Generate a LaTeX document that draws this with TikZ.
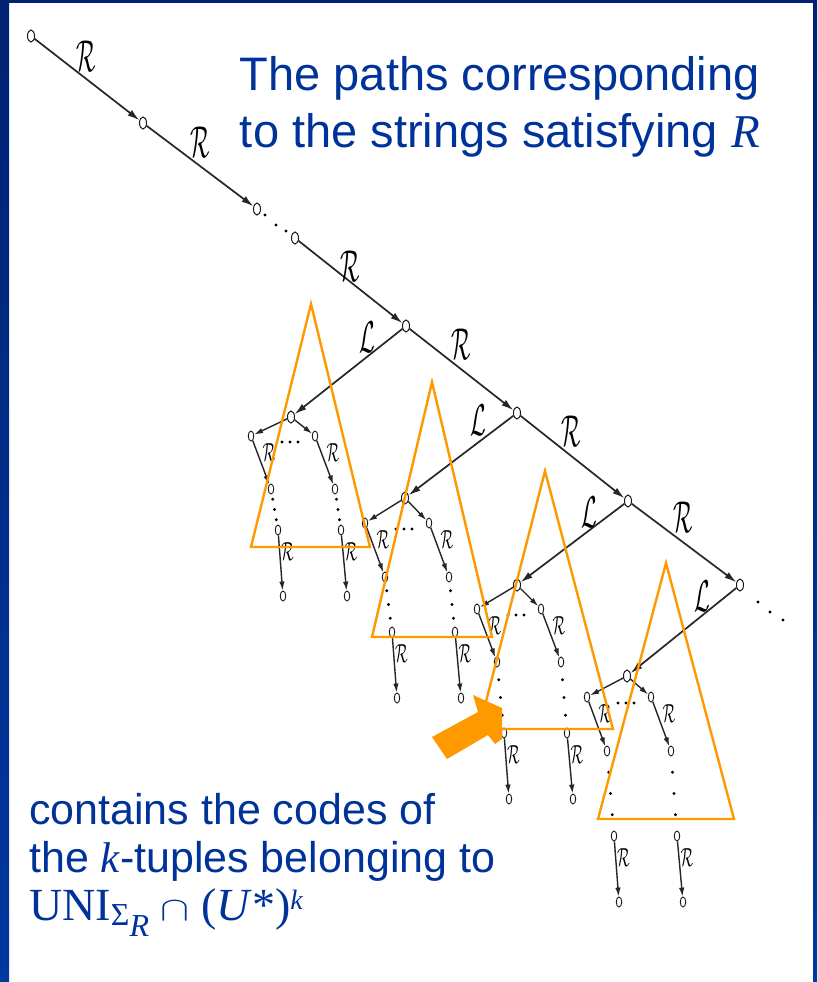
\documentclass[tikz,border=0pt]{standalone}
\usepackage{fontspec}
\setmainfont{Liberation Sans}
\newfontfamily\tnr{Liberation Serif}
\usetikzlibrary{arrows.meta,shapes.geometric,calc}
\definecolor{ttblue}{RGB}{0,51,153}
\definecolor{frametop}{RGB}{0,34,115}
\definecolor{framebot}{RGB}{0,55,160}
\definecolor{orng}{RGB}{255,153,0}
\tikzset{
  nd/.style={draw=black!90, ellipse, line width=1pt, inner sep=0pt, minimum width=7pt, minimum height=12pt},
  snd/.style={draw=black!90, ellipse, line width=0.9pt, inner sep=0pt, minimum width=5.5pt, minimum height=10pt},
  edge/.style={line width=1.7pt, black!85, -{Latex[length=12pt,width=7pt]}},
  sedge/.style={line width=1.4pt, black!85, -{Latex[length=9pt,width=5.5pt]}},
  biglab/.style={inner sep=0pt},
  smlab/.style={inner sep=0pt},
  dotm/.style={circle, fill=black, inner sep=0pt, minimum size=3.2pt},
  tri/.style={draw=orng, line width=2.4pt, line join=miter},
  ttext/.style={text=ttblue, inner sep=0pt}
}
\newcommand{\bigR}{\scalebox{1.1}[2.15]{\fontsize{20.74}{24}\selectfont$\mathcal{R}$}}
\newcommand{\bigL}{\scalebox{1.1}[2.15]{\fontsize{20.74}{24}\selectfont$\mathcal{L}$}}
\newcommand{\smR}{\scalebox{0.6}[1.05]{\fontsize{24.88}{26}\selectfont$\mathcal{R}$}}
% #1 prefix, #2 sx, #3 sy, #4 child dy, #5 rnode dy, #6 lower dy
\newcommand{\subtr}[6]{%
  \node[nd]  (#1s) at (#2,#3) {};
  \node[snd] (#1a) at ({#2-40},{#3+#4}) {};
  \node[snd] (#1b) at ({#2+24},{#3+#4}) {};
  \node[snd] (#1c) at ({#2-20},{#3+#5}) {};
  \node[snd] (#1d) at ({#2+44},{#3+#5}) {};
  \node[snd] (#1e) at ({#2-13},{#3+#6}) {};
  \node[snd] (#1f) at ({#2+50},{#3+#6}) {};
  \node[snd] (#1g) at ({#2-8},{#3+#6+66}) {};
  \node[snd] (#1h) at ({#2+56},{#3+#6+66}) {};
  \draw[sedge] (#1s) -- (#1a);
  \draw[sedge] (#1s) -- (#1b);
  \draw[sedge] (#1a) -- (#1c);
  \draw[sedge] (#1b) -- (#1d);
  \draw[sedge] (#1e) -- (#1g);
  \draw[sedge] (#1f) -- (#1h);
  \foreach \dx in {-9,-1,7} \node[dotm] at ({#2+\dx},{#3+#4+6}) {};
  \foreach \t in {0.25,0.5,0.75} {
    \node[dotm] at ($(#1c)!\t!(#1e)$) {};
    \node[dotm] at ($(#1d)!\t!(#1f)$) {};
  }
  \node[smlab] at ($($(#1a)!0.5!(#1c)$)+(8,-10)$) {\smR};
  \node[smlab] at ($($(#1b)!0.5!(#1d)$)+(8,-10)$) {\smR};
  \node[smlab] at ($($(#1e)!0.5!(#1g)$)+(7,-11)$) {\smR};
  \node[smlab] at ($($(#1f)!0.5!(#1h)$)+(7,-11)$) {\smR};
}
\begin{document}
\begin{tikzpicture}[x=1pt,y=-1pt]
\useasboundingbox (0,0) rectangle (817,982);
\fill[white] (0,0) rectangle (817,982);
% frame
\shade[top color=frametop, bottom color=framebot] (0,0) rectangle (9,982);
\shade[top color=frametop, bottom color=framebot] (813,0) rectangle (817,982);
\fill[frametop] (0,0) rectangle (817,3);

% spine nodes
\node[nd] (n0) at (31,36) {};
\node[nd] (n1) at (143,123) {};
\node[nd] (n2) at (257,209) {};
\node[nd] (n3) at (295,238) {};
\node[nd] (n4) at (406,326) {};
\node[nd] (n5) at (517,413) {};
\node[nd] (n6) at (628,501) {};
\node[nd] (n7) at (740,585) {};

\draw[edge] (n0) -- (n1);
\draw[edge] (n1) -- (n2);
\draw[edge] (n3) -- (n4);
\draw[edge] (n4) -- (n5);
\draw[edge] (n5) -- (n6);
\draw[edge] (n6) -- (n7);
\foreach \p in {(265,215),(276,225),(286,231),(758,602),(770,612),(783,620)} \node[dotm] at \p {};

\node[biglab] at (86,56) {\bigR};
\node[biglab] at (200,142) {\bigR};
\node[biglab] at (350,266) {\bigR};
\node[biglab] at (461,344) {\bigR};
\node[biglab] at (571,431) {\bigR};
\node[biglab] at (683,517) {\bigR};

% subtrees
\subtr{a}{291}{417}{19}{72}{113}
\subtr{b}{405}{498}{25}{79}{134}
\subtr{c}{517}{585}{24}{77}{148}
\subtr{d}{627}{676}{21}{75}{160}

\draw[edge] (n4) -- (as);
\draw[edge] (n5) -- (bs);
\draw[edge] (n6) -- (cs);
\draw[edge] (n7) -- (ds);
\node[biglab] at (367,337) {\bigL};
\node[biglab] at (478,420) {\bigL};
\node[biglab] at (589,512) {\bigL};
\node[biglab] at (702,596) {\bigL};

% triangles
\draw[tri] (311,304) -- (370,547) -- (251,547) -- cycle;
\draw[tri] (432,382) -- (492,637) -- (372,637) -- cycle;
\draw[tri] (545,471) -- (613,729) -- (479,729) -- cycle;
\draw[tri] (666,563) -- (734,819) -- (598,819) -- cycle;

% orange arrow
\fill[orng] (432,737) -- (478,712) -- (473,695) -- (502,708) -- (502,739) -- (495,744) -- (488,735) -- (447,759) -- cycle;

% texts
\node[ttext, anchor=north east, align=right, font=\fontsize{47}{57}\selectfont] (title) at (760,56)
  {The paths corresponding\\to the strings satisfying {\tnr\itshape R}};
\node[ttext, anchor=north west, align=left, font=\fontsize{43}{48}\selectfont] (bottom) at (29,793)
  {contains the codes of\\the {\tnr\itshape k}-tuples belonging to\\
   {\tnr\fontsize{46}{48}\selectfont UNI\raisebox{-5pt}{\fontsize{32}{32}\selectfont Σ\raisebox{-11pt}{\itshape R}}\hspace{11pt}\resizebox{29pt}{19pt}{$\cap$}\hspace{12pt}(\textit{U}*)\raisebox{11pt}{\fontsize{28}{28}\selectfont\itshape k}}};
\end{tikzpicture}
\end{document}
